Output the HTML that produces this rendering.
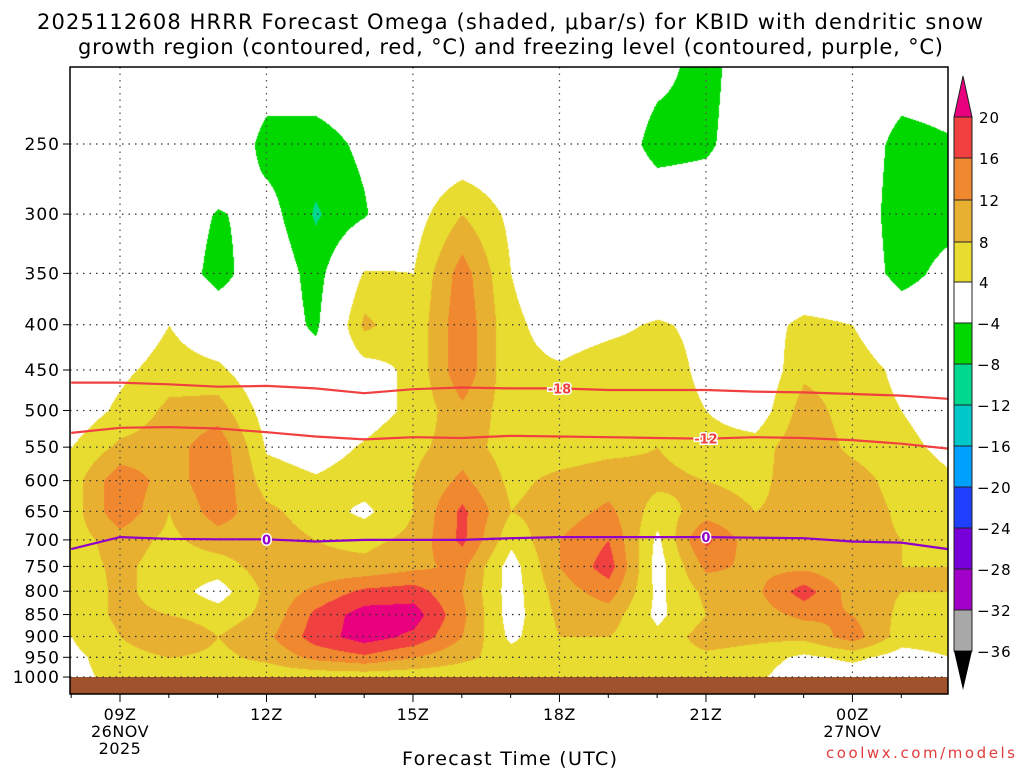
<!DOCTYPE html>
<html><head><meta charset="utf-8"><style>
body{margin:0;background:#fff;width:1024px;height:768px;overflow:hidden;position:relative;font-family:"DejaVu Sans","Liberation Sans",sans-serif}
canvas{position:absolute;left:70px;top:67px}
svg{position:absolute;left:0;top:0}
</style></head><body>
<canvas id="field" width="878" height="627"></canvas>
<svg id="ov" width="1024" height="768"></svg>
<script>
const hours=[8,9,10,11,12,13,14,15,16,17,18,19,20,21,22,23,24,25,26];
const levels=[200,250,300,350,400,450,500,550,600,650,700,750,800,850,900,950,1000,1050];
const omega=[
[0,0,0,0,0,0,0,0,0,0,0,0,-2,-6,0,0,0,0,0],
[0,0,0,2,-6,-6,-3,0,0,0,0,0,-6,-5,0,0,0,-6,-4.5],
[0,0,0,-4.5,-2,-8.5,-4.5,2,8,3,0,0,0,0,0,0,0,-7,-6],
[0,0,0,-6,0,-6,4.5,4,14,4,0,0,0,0,0,0,0,-6,-2],
[0,0,4,0,0,-5,9,5,15,5,2,3,4.5,3,2,5,4,0,0],
[0,3,6,5,0,-1,2,5,15,5,4.5,6,6,3,0,7,6,3,1],
[1,5,9,10,2,0,2,5,11,6,5,6,6,4,1,10,6,4,2],
[4,9,10,15,3.5,2,4.5,7,10,6,6,7,8,6,6,11,7,5,3],
[6,15,10,15,6,4.5,6,8,13,7,9,10,9,8,7,10,10,6,4.5],
[6,15,8,14,9,6,3,8,17,8,10,13,6,10,8,9,11,7,6],
[6,10,7,10,10,8,7,9,17,5,12,16,3,17,9,10,10,8,7],
[6,9,6,6,10,9,9,11,13,2,12,18,2,13,11,11,9,8,8],
[5,9,6,2,9,13,17,18,12,2,10,14,3,9,11,18,10,8,8],
[5,9,8,6,9,17,22,22,13,2,9,10,3,8,10,13,12,7,8],
[4,8,12,8,11,18,22,19,12,3,8,8,5,10,9,9,14,6,6],
[3,6,8,7,9,13,15,12,9,6,6,6,6,7,6,3,5,2,4],
[3,5,5,5,5,5,5,5,5,5,5,5,5,5,5,1,1,1,1],
[3,5,5,5,5,5,5,5,5,5,5,5,5,5,5,1,1,1,1]];
const iso18=[465,465,467,470,469,472,478,473,471,472,472,474,474,474,476,477,479,481,485];
const iso12=[530,523,522,524,529,535,539,536,537,534,535,536,537,538,536,537,540,545,552];
const iso0=[717,695,698,699,699,703,700,700,700,697,695,695,695,695,696,697,703,705,717];
const yTicks=[250,300,350,400,450,500,550,600,650,700,750,800,850,900,950,1000];
const xTickHours=[9,12,15,18,21,24];
const xTickLabels=[["09Z","26NOV","2025"],["12Z"],["15Z"],["18Z"],["21Z"],["00Z","27NOV"]];
const cbBounds=[20,16,12,8,4,-4,-8,-12,-16,-20,-24,-28,-32,-36];
const cbColors=["#f04040","#f08830","#e8b030","#e8dc30","#ffffff","#00d800","#00d890","#00c8c8","#00a0ff","#2040ff","#7800d8","#a000c8","#a8a8a8"];
const X0=70,X1=948,Y0=67,Y1=694;
function xs(h){return 120+(h-9)*48.83;}
function ys(p){return 144+384.5*Math.log(p/250);}
function color(v){
 if(v>=20)return[232,0,127];
 const hex=v>=16?cbColors[0]:v>=12?cbColors[1]:v>=8?cbColors[2]:v>=4?cbColors[3]:v>=-4?cbColors[4]:v>=-8?cbColors[5]:v>=-12?cbColors[6]:v>=-16?cbColors[7]:v>=-20?cbColors[8]:v>=-24?cbColors[9]:v>=-28?cbColors[10]:v>=-32?cbColors[11]:cbColors[12];
 return[parseInt(hex.substr(1,2),16),parseInt(hex.substr(3,2),16),parseInt(hex.substr(5,2),16)];
}
const cv=document.getElementById('field'),ctx=cv.getContext('2d');
const img=ctx.createImageData(cv.width,cv.height);
const lp=levels.map(l=>Math.log(l));
for(let py=0;py<cv.height;py++){
 const y=py+Y0;const lnp=Math.log(250)+(y-144)/384.5;
 let r=0;while(r<levels.length-2&&lp[r+1]<lnp)r++;
 let fy=(lnp-lp[r])/(lp[r+1]-lp[r]);fy=Math.max(0,Math.min(1,fy));
 for(let px=0;px<cv.width;px++){
  const h=9+(px+X0-120)/48.83;
  let c=Math.floor(h-hours[0]);c=Math.max(0,Math.min(hours.length-2,c));
  let fx=(h-hours[c]);fx=Math.max(0,Math.min(1,fx));
  const v=(omega[r][c]*(1-fx)+omega[r][c+1]*fx)*(1-fy)+(omega[r+1][c]*(1-fx)+omega[r+1][c+1]*fx)*fy;
  const col=color(v);const i=(py*cv.width+px)*4;
  img.data[i]=col[0];img.data[i+1]=col[1];img.data[i+2]=col[2];img.data[i+3]=255;
 }
}
ctx.putImageData(img,0,0);
const NS="http://www.w3.org/2000/svg",svg=document.getElementById('ov');
function el(t,a,txt){const e=document.createElementNS(NS,t);for(const k in a)e.setAttribute(k,a[k]);if(txt!==undefined)e.textContent=txt;svg.appendChild(e);return e;}
let e;
e=el('rect',{x:X0,y:677,width:X1-X0,height:Y1-677,fill:'#a0522d'});


yTicks.forEach(p=>{
 e=el('line',{x1:X0,x2:X1,y1:ys(p),y2:ys(p),stroke:'#333','stroke-dasharray':'1.5,5','stroke-width':1.3});
 
 
 e=el('line',{x1:X0-7,x2:X0,y1:ys(p),y2:ys(p),stroke:'#000'});
 
 
 e=el('text',{x:X0-10,y:ys(p)+6,'text-anchor':'end','font-size':17,'letter-spacing':1,fill:'#000'},String(p));
 
 
});
xTickHours.forEach((h,i)=>{
 const x=xs(h);
 e=el('line',{x1:x,x2:x,y1:Y0,y2:677,stroke:'#555','stroke-dasharray':'1.5,5','stroke-width':1.3});
 
 
 xTickLabels[i].forEach((t,j)=>{
  e=el('text',{x:x,y:720+j*17,'text-anchor':'middle','font-size':16,'letter-spacing':0.5,fill:'#000'},t);
  
  
 });
});
hours.forEach(h=>{const x=xs(h);if(x<X0||x>X1)return;
 e=el('line',{x1:x,x2:x,y1:Y1,y2:Y1+(h%3==0?8:4),stroke:'#000'});
 
 
});
function iso(arr,col,name,labels){
 const d=arr.map((p,i)=>(i?'L':'M')+Math.max(X0,Math.min(X1,xs(hours[i]))).toFixed(1)+','+ys(p).toFixed(1)).join(' ');
 e=el('path',{d:d,fill:'none',stroke:col,'stroke-width':2.2});
 
 
 labels.forEach(l=>{const x=xs(l[0]);const i=hours.indexOf(l[0]);const y=ys(arr[i]);
  e=el('text',{x:x,y:y+5,'text-anchor':'middle','font-size':13,'font-weight':'bold',fill:col,stroke:'#fff','stroke-width':3,'paint-order':'stroke'},l[1]);
  
  
 });
}
iso(iso18,'#f04040','isotherm-minus18',[[18,'-18']]);
iso(iso12,'#f04040','isotherm-minus12',[[21,'-12']]);
iso(iso0,'#9000c8','freezing-level',[[12,'0'],[21,'0']]);
e=el('rect',{x:X0,y:Y0,width:X1-X0,height:Y1-Y0,fill:'none',stroke:'#000','stroke-width':1.5});


const cbY=[117,158,200,242,282,323,364,405,446,487,528,569,610,651];
cbColors.forEach((c,i)=>{
 e=el('rect',{x:954,y:cbY[i],width:18,height:cbY[i+1]-cbY[i],fill:c,stroke:'#222','stroke-width':1});
 
 
});
e=el('polygon',{points:'954,117 972,117 963,76',fill:'#e8007f',stroke:'#222'});


e=el('polygon',{points:'954,651 972,651 963,690',fill:'#000'});


cbBounds.forEach((b,i)=>{
 e=el('text',{x:b<0?977:979,y:cbY[i]+6,'font-size':15,'letter-spacing':1,fill:'#000'},b<0?'\u2212'+(-b):String(b));
 
 
});
e=el('text',{x:37,y:29,'font-size':21,textLength:946,lengthAdjust:'spacing',fill:'#000'},'2025112608 HRRR Forecast Omega (shaded, \u03bcbar/s) for KBID with dendritic snow');


e=el('text',{x:78,y:54,'font-size':21,textLength:865,lengthAdjust:'spacing',fill:'#000'},'growth region (contoured, red, \u00b0C) and freezing level (contoured, purple, \u00b0C)');


e=el('text',{x:402,y:765,'font-size':19,textLength:215,lengthAdjust:'spacing',fill:'#000'},'Forecast Time (UTC)');


e=el('text',{x:826,y:758,'font-size':15,textLength:189,lengthAdjust:'spacing',fill:'#e03c3c'},'coolwx.com/models');


</script>
</body></html>
